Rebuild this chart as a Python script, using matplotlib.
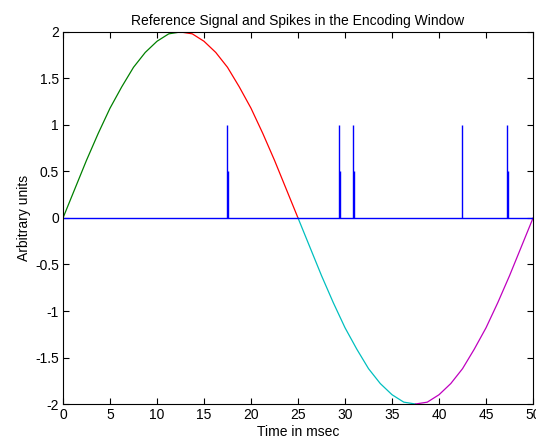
import matplotlib
matplotlib.use("Agg")
import matplotlib.pyplot as plt
import numpy as np

plt.rcParams['font.family'] = ['Liberation Sans', 'DejaVu Sans']

# Reference signal (time in ms, amplitude)
time_ms = [0, 1.25, 2.5, 3.75, 5, 6.25, 7.5, 8.75, 10, 11.25, 12.5,
           13.75, 15, 16.25, 17.5, 18.75, 20, 21.25, 22.5, 23.75, 25,
           26.25, 27.5, 28.75, 30, 31.25, 32.5, 33.75, 35, 36.25, 37.5,
           38.75, 40, 41.25, 42.5, 43.75, 45, 46.25, 47.5, 48.75, 50]
signal = [0.00, 0.31, 0.62, 0.91, 1.18, 1.41, 1.62, 1.78, 1.90, 1.98, 2.00,
          1.98, 1.90, 1.78, 1.62, 1.41, 1.18, 0.91, 0.62, 0.31, 0.00,
          -0.31, -0.62, -0.91, -1.18, -1.41, -1.62, -1.78, -1.90, -1.98, -2.00,
          -1.98, -1.90, -1.78, -1.62, -1.41, -1.18, -0.91, -0.62, -0.31, 0.00]
segment_colors = [(0, 0.5, 0), (1, 0, 0), (0, 0.75, 0.75), (0.75, 0, 0.75)]
segment_bounds = [(0, 10), (10, 20), (20, 30), (30, 40)]  # index ranges

# Spikes
spike_times_full = [17.4, 29.4, 30.9, 42.4, 47.2]
spike_heights_full = [1, 1, 1, 1, 1]
spike_times_half = [17.5, 29.5, 31.0, 47.3]
spike_heights_half = [0.5, 0.5, 0.5, 0.5]

fig = plt.figure(figsize=(5.36, 4.38), dpi=100)
ax = fig.add_axes([0.1175, 0.0776, 0.877, 0.8494])

t = np.array(time_ms)
s = np.array(signal)
for (i0, i1), c in zip(segment_bounds, segment_colors):
    ax.plot(t[i0:i1 + 1], s[i0:i1 + 1], color=c, lw=0.9)

ax.plot([0, 50], [0, 0], color='blue', lw=1.0)
ax.vlines(spike_times_full, 0, spike_heights_full, color='blue', lw=1.0)
ax.vlines(spike_times_half, 0, spike_heights_half, color='blue', lw=1.0)

ax.set_xlim(0, 50)
ax.set_ylim(-2, 2)
ax.set_xticks(np.arange(0, 51, 5))
ax.set_yticks(np.arange(-2, 2.01, 0.5))
ax.set_yticklabels(['-2', '-1.5', '-1', '-0.5', '0', '0.5', '1', '1.5', '2'])
ax.tick_params(direction='in', top=True, right=True, labelsize=10, length=4, width=0.8, pad=3)
for sp in ax.spines.values():
    sp.set_linewidth(0.8)
ax.set_title('Reference Signal and Spikes in the Encoding Window', fontsize=10, pad=5)
ax.set_xlabel('Time in msec', fontsize=10, labelpad=2)
ax.set_ylabel('Arbitrary units', fontsize=10, labelpad=3)

fig.savefig('out.png', dpi=100)
